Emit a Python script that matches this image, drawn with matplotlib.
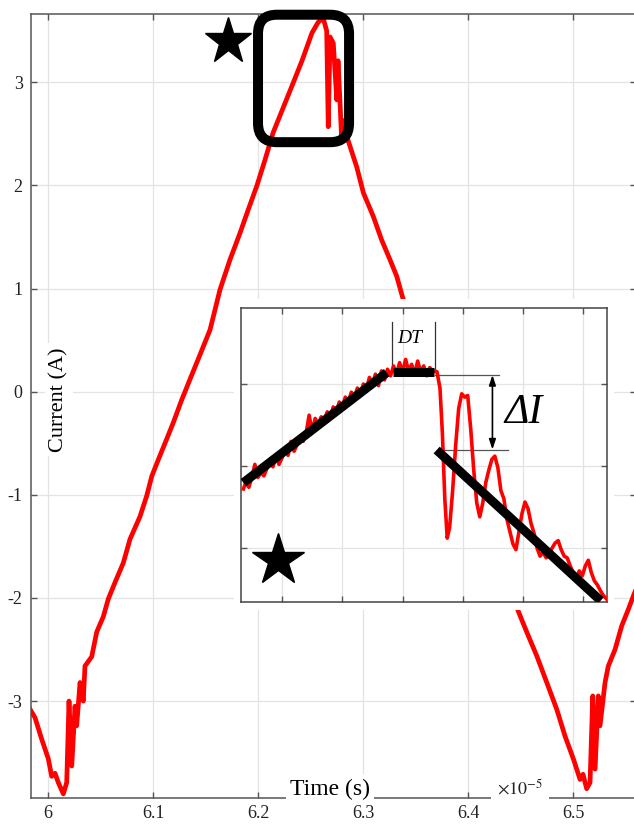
import matplotlib.pyplot as plt
from matplotlib.patches import FancyBboxPatch, Rectangle

plt.rcParams["font.family"] = ["Liberation Serif", "DejaVu Serif"]
plt.rcParams["mathtext.fontset"] = "stix"
plt.rcParams["axes.unicode_minus"] = False

# main trace: time in units of 1e-5 s, current in A
t_main = [5.9829, 5.9876, 5.9940, 6.0003, 6.0035, 6.0067, 6.0098, 6.0124,
          6.0146, 6.0178, 6.0200, 6.0226, 6.0257, 6.0273, 6.0305, 6.0336,
          6.0352, 6.0416, 6.0464, 6.0527, 6.0574, 6.0638, 6.0717, 6.0781,
          6.0876, 6.0940, 6.0988, 6.1050, 6.1130, 6.1193, 6.1273, 6.1352,
          6.1448, 6.1543, 6.1638, 6.1733, 6.1829, 6.1905, 6.1990, 6.2067,
          6.2143, 6.2238, 6.2333, 6.2419, 6.2514, 6.2571, 6.2619, 6.2654,
          6.2669, 6.2686, 6.2717, 6.2750, 6.2762, 6.2781, 6.2797, 6.2810,
          6.2857, 6.2940, 6.3003, 6.3098, 6.3178, 6.3257, 6.3321, 6.3384,
          6.4479, 6.4559, 6.4654, 6.4750, 6.4845, 6.4924, 6.5003, 6.5067,
          6.5095, 6.5130, 6.5162, 6.5188, 6.5210, 6.5241, 6.5257, 6.5305,
          6.5336, 6.5400, 6.5464, 6.5527, 6.5575, 6.5638]
i_main = [-3.08, -3.16, -3.37, -3.56, -3.73, -3.70, -3.79, -3.85,
          -3.90, -3.79, -3.00, -3.63, -3.05, -3.24, -2.82, -3.00,
          -2.66, -2.57, -2.33, -2.18, -2.01, -1.85, -1.66, -1.43,
          -1.21, -1.01, -0.82, -0.66, -0.46, -0.30, -0.08, 0.12,
          0.36, 0.60, 0.99, 1.28, 1.54, 1.76, 2.00, 2.25,
          2.51, 2.75, 2.99, 3.21, 3.48, 3.58, 3.63, 3.50,
          2.57, 3.44, 3.38, 2.83, 3.21, 2.80, 2.44, 2.63,
          2.44, 2.18, 1.93, 1.70, 1.47, 1.28, 1.12, 0.89,
          -2.13, -2.33, -2.56, -2.82, -3.08, -3.34, -3.56, -3.76,
          -3.71, -3.85, -3.79, -2.95, -3.66, -2.95, -3.24, -2.82,
          -2.66, -2.50, -2.27, -2.11, -1.98, -1.82]

# zoomed view of the peak (grid units)
t_zoom = [-0.64, -0.60, -0.55, -0.50, -0.45, -0.40, -0.35, -0.30, -0.25, -0.20,
          -0.15, -0.10, -0.05, 0.00, 0.05, 0.10, 0.15, 0.20, 0.25, 0.30,
          0.35, 0.40, 0.45, 0.50, 0.55, 0.60, 0.65, 0.70, 0.75, 0.80,
          0.85, 0.90, 0.95, 1.00, 1.05, 1.10, 1.15, 1.20, 1.25, 1.30,
          1.35, 1.40, 1.45, 1.50, 1.55, 1.60, 1.65, 1.70, 1.75, 1.80,
          1.85, 1.90, 1.95, 2.00, 2.05, 2.10, 2.15, 2.20, 2.25, 2.30,
          2.35, 2.40, 2.45, 2.50, 2.57, 2.62, 2.66, 2.70, 2.74, 2.78,
          2.83, 2.88, 2.93, 2.98, 3.03, 3.08, 3.13, 3.18, 3.23, 3.28,
          3.33, 3.38, 3.43, 3.48, 3.53, 3.58, 3.63, 3.68, 3.73, 3.78,
          3.83, 3.88, 3.93, 3.98, 4.03, 4.08, 4.13, 4.18, 4.23, 4.28,
          4.33, 4.38, 4.43, 4.48, 4.53, 4.58, 4.63, 4.68, 4.73, 4.78,
          4.83, 4.88, 4.93, 4.98, 5.03, 5.08, 5.13, 5.18, 5.23, 5.28,
          5.33, 5.38]
i_zoom = [0.72, 0.80, 0.74, 0.86, 1.02, 0.86, 0.92, 0.88, 0.97, 1.08,
          0.99, 1.12, 1.02, 1.10, 1.20, 1.13, 1.30, 1.18, 1.26, 1.36,
          1.30, 1.40, 1.62, 1.42, 1.58, 1.50, 1.60, 1.55, 1.66, 1.60,
          1.72, 1.66, 1.78, 1.72, 1.84, 1.78, 1.90, 1.84, 1.95, 1.88,
          2.00, 1.94, 2.08, 2.00, 2.12, 1.98, 2.16, 2.05, 2.18, 2.10,
          2.22, 2.12, 2.26, 2.14, 2.30, 2.16, 2.24, 2.12, 2.28, 2.15,
          2.22, 2.10, 2.20, 2.16, 2.15, 1.95, 1.40, 0.60, 0.12, 0.25,
          0.70, 1.25, 1.70, 1.88, 1.84, 1.86, 1.45, 0.95, 0.55, 0.38,
          0.55, 0.80, 0.95, 1.08, 1.12, 0.98, 0.70, 0.60, 0.35, 0.20,
          0.05, -0.02, 0.20, 0.42, 0.56, 0.48, 0.30, 0.18, 0.00, -0.10,
          -0.05, -0.12, -0.08, 0.00, 0.06, 0.09, -0.02, -0.10, -0.12, -0.22,
          -0.30, -0.38, -0.28, -0.34, -0.22, -0.15, -0.30, -0.40, -0.45, -0.52,
          -0.58, -0.62]

# straight segments drawn over the zoomed trace
fit_rise_t = [-0.641, 1.736]
fit_rise_i = [0.796, 2.138]
fit_flat_t = [1.846, 2.521]
fit_flat_i = [2.150, 2.150]
fit_fall_t = [2.565, 5.285]
fit_fall_i = [1.195, -0.643]

x_ticks = [6.0, 6.1, 6.2, 6.3, 6.4, 6.5]
x_labels = ["6", "6.1", "6.2", "6.3", "6.4", "6.5"]
y_ticks = [-3, -2, -1, 0, 1, 2, 3]

W, H = 634, 825
fig = plt.figure(figsize=(W / 100, H / 100), dpi=100)

# main axes
ax = fig.add_axes([31 / W, 27 / H, 604.5 / W, 784 / H])
ax.plot(t_main, i_main, color="red", lw=3.4, zorder=3)
ax.set_xlim(5.9838, 6.5595)
ax.set_ylim(-3.94, 3.663)
ax.set_xticks(x_ticks, x_labels)
ax.set_yticks(y_ticks)
ax.grid(True, color="#e3e3e3", lw=0.9)
ax.tick_params(direction="in", length=4, width=1, color="#555555",
               labelcolor="#222222", labelsize=13, top=True, right=True)
ax.tick_params(axis="x", pad=5)
ax.tick_params(axis="y", pad=6)
for s in ax.spines.values():
    s.set_color("#555555")
    s.set_linewidth(1.1)

ax.text(0.4946, 0.0115, "Time (s)", transform=ax.transAxes, ha="center",
        va="center", fontsize=17, bbox=dict(fc="white", ec="none", pad=3),
        zorder=6)
ax.text(0.809, 0.0125, r"$\times10^{-5}$", transform=ax.transAxes,
        ha="center", va="center", fontsize=13, color="#222222",
        bbox=dict(fc="white", ec="none", pad=4), zorder=6)
ax.text(0.0463, 0.5077, "Current (A)", transform=ax.transAxes, ha="center",
        va="center", rotation=90, fontsize=16,
        bbox=dict(fc="white", ec="none", pad=3), zorder=6)

ax.plot([6.171], [3.398], marker="*", ms=35, color="black", ls="none",
        clip_on=False, zorder=5)

# rounded box around the peak, corners kept round on screen
xr = 6.5595 - 5.9838
yr = 3.663 + 3.94
aspect = (yr * 604.5) / (xr * 784)
box = FancyBboxPatch((6.2, 2.42), 0.0867, 1.236,
                     boxstyle="round,pad=0,rounding_size=0.018",
                     mutation_aspect=aspect, fc="none", ec="black", lw=7.2,
                     clip_on=False, zorder=5)
ax.add_patch(box)

# white margin behind the inset
ax.add_patch(Rectangle((234 / W, 215 / H), 380 / W, 311 / H,
                       transform=fig.transFigure, fc="white", ec="none",
                       clip_on=False, zorder=8))

# inset
axin = fig.add_axes([241 / W, 223 / H, 366 / W, 294 / H])
axin.plot(t_zoom, i_zoom, color="red", lw=2.6, zorder=3)
for tt, ii in [(fit_rise_t, fit_rise_i), (fit_flat_t, fit_flat_i),
               (fit_fall_t, fit_fall_i)]:
    axin.plot(tt, ii, color="black", lw=6.5, solid_capstyle="butt", zorder=4)
axin.set_xlim(-0.68, 5.39)
axin.set_ylim(-0.659, 2.927)
axin.set_xticks(range(6))
axin.set_yticks([0, 1, 2])
axin.grid(True, color="#e3e3e3", lw=0.9)
axin.tick_params(direction="in", length=4, width=1, color="#555555",
                 labelbottom=False, labelleft=False, top=True, right=True)
for s in axin.spines.values():
    s.set_color("#444444")
    s.set_linewidth(1.1)

# DT bracket
axin.plot([1.83, 1.83], [2.15, 2.76], color="#333333", lw=0.9)
axin.plot([2.54, 2.54], [2.15, 2.76], color="#333333", lw=0.9)
axin.text(2.12, 2.56, "DT", ha="center", va="center", fontsize=14,
          style="italic")

# delta I marker
axin.plot([2.54, 3.60], [2.11, 2.11], color="#555555", lw=0.9)
axin.plot([2.68, 3.75], [1.20, 1.20], color="#555555", lw=0.9)
axin.annotate("", xy=(3.49, 2.11), xytext=(3.49, 1.20),
              arrowprops=dict(arrowstyle="<|-|>,head_length=0.6,head_width=0.2",
                              color="black", lw=1.2, shrinkA=0, shrinkB=0))
axin.text(4.01, 1.65, "ΔI", ha="center", va="center", fontsize=30,
          style="italic")

axin.plot([-0.066], [-0.146], marker="*", ms=39, color="black", ls="none",
          zorder=5)

fig.savefig("out.png", dpi=100)
